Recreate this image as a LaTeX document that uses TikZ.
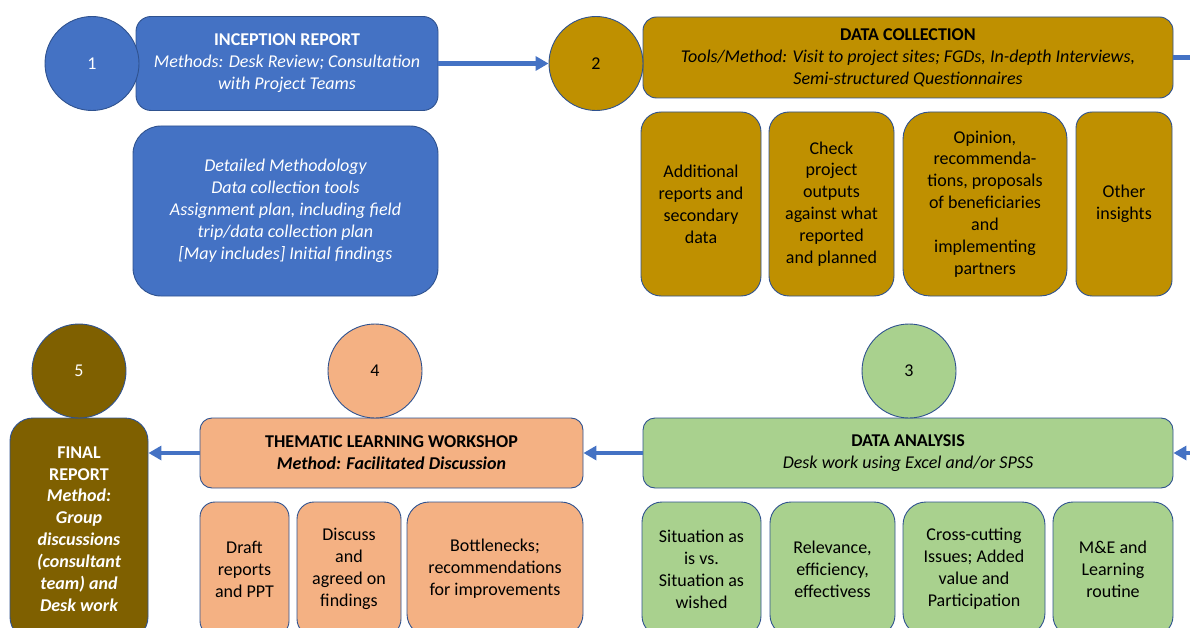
\documentclass[tikz,border=0pt]{standalone}
\usepackage{fontspec}
\setmainfont{Carlito}
\usetikzlibrary{arrows.meta}
\definecolor{offblue}{HTML}{4472C4}
\definecolor{edgeblue}{HTML}{2F528F}
\definecolor{gold}{HTML}{BF9000}
\definecolor{leaf}{HTML}{A9D18E}
\definecolor{peach}{HTML}{F4B183}
\definecolor{umber}{HTML}{7F6000}

\begin{document}
\begin{tikzpicture}[x=1pt,y=-1pt,
  txt/.style={font=\fontsize{18}{21.9}\selectfont, align=center},
  card/.style={draw=edgeblue, line width=0.9pt, rectangle, inner sep=0pt, txt},
  disc/.style={draw=edgeblue, line width=0.9pt, circle, minimum size=94pt, inner sep=0pt, txt},
  flow/.style={draw=offblue, line width=4.5pt, -{Triangle[length=13pt,width=14pt]}},
  flowplain/.style={draw=offblue, line width=4.5pt},
]
\useasboundingbox (0,0) rectangle (1190,628);
\clip (0,0) rectangle (1190,628);

% ---- stage 1: inception report
\node[card, fill=offblue, text=white, minimum width=302pt, minimum height=94pt, rounded corners=15pt]
  (inc) at (287,63.5) {\textbf{INCEPTION REPORT}\\\textit{Methods: Desk Review; Consultation}\\\textit{with Project Teams}};
\node[card, fill=offblue, text=white, minimum width=305pt, minimum height=170pt, rounded corners=28pt,
  font=\fontsize{18}{21.9}\selectfont\itshape]
  (det) at (285.5,211) {Detailed Methodology\\Data collection tools\\Assignment plan, including field\\trip/data collection plan\\{[}May includes{]} Initial findings};
\node[disc, fill=offblue, text=white] (c1) at (92,63.5) {1};

% ---- stage 2: data collection
\node[card, fill=gold, minimum width=530pt, minimum height=81pt, rounded corners=13.5pt]
  (dc) at (908,57.5) {\textbf{DATA COLLECTION}\\\textit{Tools/Method: Visit to project sites; FGDs, In-depth Interviews,}\\\textit{Semi-structured Questionnaires}};
\node[card, fill=gold, minimum width=120pt, minimum height=184pt, rounded corners=20pt]
  (dcA) at (701,204) {Additional\\reports and\\secondary\\data};
\node[card, fill=gold, minimum width=125pt, minimum height=184pt, rounded corners=20pt]
  (dcB) at (831.5,204) {Check\\project\\outputs\\against what\\reported\\and planned};
\node[card, fill=gold, minimum width=164pt, minimum height=184pt, rounded corners=27pt]
  (dcC) at (985,204) {Opinion,\\recommenda-\\tions, proposals\\of beneficiaries\\and\\implementing\\partners};
\node[card, fill=gold, minimum width=96pt, minimum height=184pt, rounded corners=16pt]
  (dcD) at (1124,204) {Other\\insights};
\node[disc, fill=gold] (c2) at (596,63.5) {2};

% ---- stage 3: data analysis
\node[card, fill=leaf, minimum width=530pt, minimum height=70pt, rounded corners=12pt]
  (ana) at (908,453) {\textbf{DATA ANALYSIS}\\\textit{Desk work using Excel and/or SPSS}};
\node[card, fill=leaf, minimum width=119pt, minimum height=134pt, rounded corners=20pt]
  (an1) at (701.5,569) {Situation as\\is vs.\\Situation as\\wished};
\node[card, fill=leaf, minimum width=125pt, minimum height=134pt, rounded corners=21pt]
  (an2) at (832.5,569) {Relevance,\\efficiency,\\effectivess};
\node[card, fill=leaf, minimum width=142pt, minimum height=134pt, rounded corners=23pt]
  (an3) at (974,569) {Cross-cutting\\Issues; Added\\value and\\Participation};
\node[card, fill=leaf, minimum width=120pt, minimum height=134pt, rounded corners=20pt]
  (an4) at (1113,569) {M\&E and\\Learning\\routine};
\node[disc, fill=leaf] (c3) at (909,371) {3};

% ---- stage 4: thematic learning workshop
\node[card, fill=peach, minimum width=383pt, minimum height=70pt, rounded corners=12pt]
  (thm) at (391.5,453) {\textbf{THEMATIC LEARNING WORKSHOP}\\\textbf{\textit{Method: Facilitated Discussion}}};
\node[card, fill=peach, minimum width=89pt, minimum height=134pt, rounded corners=15pt]
  (th1) at (244.5,569) {Draft\\reports\\and PPT};
\node[card, fill=peach, minimum width=104pt, minimum height=134pt, rounded corners=17pt]
  (th2) at (349,569) {Discuss\\and\\agreed on\\findings};
\node[card, fill=peach, minimum width=176pt, minimum height=134pt, rounded corners=22pt]
  (th3) at (495,569) {Bottlenecks;\\recommendations\\for improvements};
\node[disc, fill=peach] (c4) at (375,371) {4};

% ---- stage 5: final report
\node[card, fill=umber, text=white, minimum width=138pt, minimum height=222pt, rounded corners=23pt,
  font=\fontsize{18}{21.9}\selectfont\bfseries\itshape]
  (fin) at (79,529) {{\upshape FINAL}\\{\upshape REPORT}\\Method:\\Group\\discussions\\(consultant\\team) and\\Desk work};
\node[disc, fill=umber, text=white] (c5) at (79,371) {5};

% ---- connectors
\coordinate (outR) at (1190,57.5);
\coordinate (inR) at (1190,453);
\draw[flow] (inc.east) -- (c2.west);
\draw[flowplain] (dc.east) -- (outR);
\draw[flow] (inR) -- (ana.east);
\draw[flow] (ana.west) -- (thm.east);
\draw[flow] (thm.west) -- (thm.west -| fin.east);
\end{tikzpicture}
\end{document}
